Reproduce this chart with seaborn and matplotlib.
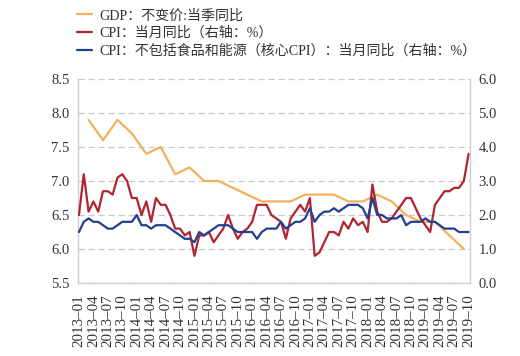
import numpy as np
import pandas as pd
import matplotlib
matplotlib.use("Agg")
import matplotlib.pyplot as plt
import seaborn as sns

# monthly axis 2013-01 .. 2019-10
months = [str(p) for p in pd.period_range("2013-01", "2019-10", freq="M")]

# GDP constant price, quarterly yoy (left axis), 2013Q1 .. 2019Q3
gdp_quarters = [str(p) for p in pd.period_range("2013Q1", "2019Q3", freq="Q")]
gdp = [7.9, 7.6, 7.9, 7.7, 7.4, 7.5, 7.1, 7.2, 7.0, 7.0, 6.9, 6.8,
       6.7, 6.7, 6.7, 6.8, 6.8, 6.8, 6.7, 6.7, 6.8, 6.7, 6.5, 6.4,
       6.4, 6.2, 6.0]

# CPI monthly yoy (right axis)
cpi = [2.0, 3.2, 2.1, 2.4, 2.1, 2.7, 2.7, 2.6, 3.1, 3.2, 3.0, 2.5,
       2.5, 2.0, 2.4, 1.8, 2.5, 2.3, 2.3, 2.0, 1.6, 1.6, 1.4, 1.5,
       0.8, 1.4, 1.4, 1.5, 1.2, 1.4, 1.6, 2.0, 1.6, 1.3, 1.5, 1.6,
       1.8, 2.3, 2.3, 2.3, 2.0, 1.9, 1.8, 1.3, 1.9, 2.1, 2.3, 2.1,
       2.5, 0.8, 0.9, 1.2, 1.5, 1.5, 1.4, 1.8, 1.6, 1.9, 1.7, 1.8,
       1.5, 2.9, 2.1, 1.8, 1.8, 1.9, 2.1, 2.3, 2.5, 2.5, 2.2, 1.9,
       1.7, 1.5, 2.3, 2.5, 2.7, 2.7, 2.8, 2.8, 3.0, 3.8]

# core CPI (ex food & energy) monthly yoy (right axis)
core_cpi = [1.5, 1.8, 1.9, 1.8, 1.8, 1.7, 1.6, 1.6, 1.7, 1.8, 1.8, 1.8,
            2.0, 1.7, 1.7, 1.6, 1.7, 1.7, 1.7, 1.6, 1.5, 1.4, 1.3, 1.3,
            1.2, 1.5, 1.4, 1.5, 1.6, 1.7, 1.7, 1.7, 1.6, 1.5, 1.5, 1.5,
            1.5, 1.3, 1.5, 1.6, 1.6, 1.6, 1.8, 1.6, 1.7, 1.8, 1.8, 1.9,
            2.2, 1.8, 2.0, 2.1, 2.1, 2.2, 2.1, 2.2, 2.3, 2.3, 2.3, 2.2,
            1.9, 2.5, 2.0, 2.0, 1.9, 1.9, 1.9, 2.0, 1.7, 1.8, 1.8, 1.8,
            1.9, 1.8, 1.8, 1.7, 1.6, 1.6, 1.6, 1.5, 1.5, 1.5]

tick_labels = [m.replace("-", "–") for m in months[::3]]

labels = ["GDP：不变价:当季同比",
          "CPI：当月同比（右轴：%）",
          "CPI：不包括食品和能源（核心CPI）：当月同比（右轴：%）"]
colors = ["#F1B25C", "#B0252F", "#22408F"]

sns.set_theme(style="white")
plt.rcParams["font.family"] = ["Liberation Serif", "Noto Sans CJK SC", "DejaVu Sans"]

month_pos = {m: i for i, m in enumerate(months)}
gdp_df = pd.DataFrame({
    "x": [month_pos[str(pd.Period(q, freq="Q").asfreq("M", "end"))] for q in gdp_quarters],
    "gdp": gdp,
})
cpi_df = pd.DataFrame({"x": np.arange(len(months)), "cpi": cpi, "core": core_cpi})

fig = plt.figure(figsize=(5.2, 3.56), dpi=100)
ax = fig.add_axes([0.150, 0.205, 0.754, 0.573])
ax2 = ax.twinx()

lw = 1.6
sns.lineplot(data=gdp_df, x="x", y="gdp", ax=ax, color=colors[0], lw=lw, label=labels[0], legend=False)
sns.lineplot(data=cpi_df, x="x", y="cpi", ax=ax2, color=colors[1], lw=lw, label=labels[1], legend=False)
sns.lineplot(data=cpi_df, x="x", y="core", ax=ax2, color=colors[2], lw=lw, label=labels[2], legend=False)

ax.set_xlim(-0.2, len(months) - 0.7)
ax.set_ylim(5.5, 8.5)
ax.set_yticks(np.arange(5.5, 8.51, 0.5))
ax.set_yticklabels([f"{v:.1f}" for v in np.arange(5.5, 8.51, 0.5)])
ax2.set_ylim(0, 6)
ax2.set_yticks(np.arange(0, 6.01, 1))
ax2.set_yticklabels([f"{v:.1f}" for v in np.arange(0, 6.01, 1)])

ax.set_xticks(np.arange(0, len(months), 3))
ax.set_xticklabels(tick_labels, rotation=90)
ax.set_xlabel("")
ax.set_ylabel("")
ax2.set_ylabel("")

ax.yaxis.grid(True, color="#c8c8c8", linestyle=(0, (5, 3)), lw=0.9)
ax.xaxis.grid(False)
ax2.grid(False)

for a in (ax, ax2):
    a.tick_params(axis="y", length=0, labelsize=10.5, colors="#333333", pad=6)
    for side in ("left", "right", "bottom"):
        a.spines[side].set_color("#cfcfcf")
        a.spines[side].set_linewidth(1.0)
    a.spines["top"].set_visible(False)
ax.tick_params(axis="x", length=0, labelsize=10.8, colors="#333333", pad=8)
ax.spines["right"].set_visible(False)
ax2.spines["left"].set_visible(False)
ax2.spines["bottom"].set_visible(False)

handles = [ax.get_lines()[0], ax2.get_lines()[0], ax2.get_lines()[1]]
fig.legend(handles, labels, loc="upper left", bbox_to_anchor=(0.148, 0.975),
           frameon=False, fontsize=10.1, borderpad=0, borderaxespad=0,
           handlelength=1.1, handletextpad=0.5, labelspacing=0.3,
           labelcolor="#333333")

fig.savefig("out.png", dpi=100)
